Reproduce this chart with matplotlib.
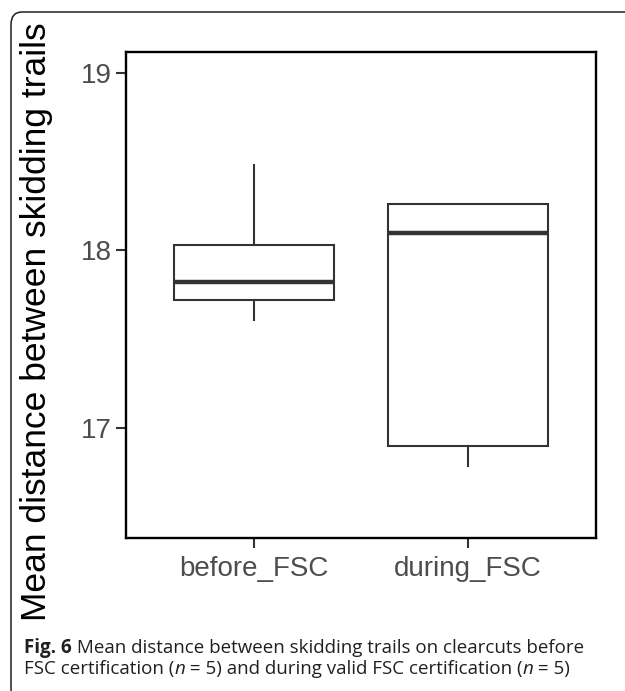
import matplotlib
matplotlib.use("Agg")
import matplotlib.pyplot as plt
from matplotlib.patches import FancyBboxPatch

# five-number summaries
groups = ["before_FSC", "during_FSC"]
whisker_low = [17.61, 16.79]
q1 = [17.72, 16.90]
median = [17.82, 18.10]
q3 = [18.03, 18.26]
whisker_high = [18.48, 18.26]
y_ticks = [17, 18, 19]

fig = plt.figure(figsize=(6.25, 6.91), dpi=100)
ax = fig.add_axes([0.2011, 0.2219, 0.7525, 0.7028])

stats = []
for i, g in enumerate(groups):
    stats.append(dict(label=g, whislo=whisker_low[i], q1=q1[i], med=median[i],
                      q3=q3[i], whishi=whisker_high[i], fliers=[]))

line_col = "#333333"
ax.bxp(stats, positions=[1, 2], widths=0.75, showcaps=False, patch_artist=True,
       boxprops=dict(facecolor="white", edgecolor=line_col, linewidth=1.5),
       medianprops=dict(color=line_col, linewidth=3.2, solid_capstyle="butt"),
       whiskerprops=dict(color=line_col, linewidth=1.5))

ax.set_xlim(0.4, 2.6)
ax.set_ylim(16.385, 19.116)
ax.set_yticks(y_ticks)
ax.set_xticks([1, 2])
ax.set_xticklabels(groups)
for s in ax.spines.values():
    s.set_linewidth(1.7)
    s.set_color("black")
ax.tick_params(axis="both", length=7, width=1.5, color="#333333",
               labelsize=20, labelcolor="#4D4D4D", pad=3)
ax.tick_params(axis="x", pad=6)
for lab in ax.get_xticklabels() + ax.get_yticklabels():
    lab.set_family("Liberation Sans")

fig.text(0.058, 0.535, "Mean distance between skidding trails", rotation=90,
         ha="center", va="center", fontsize=25.5, family="Liberation Sans", color="black")

# caption, drawn piece by piece so bold and italic parts can be mixed
cap_lines = [
    [("Fig. 6", "bold", "normal"),
     (" Mean distance between skidding trails on clearcuts before", "normal", "normal")],
    [("FSC certification (", "normal", "normal"), ("n", "normal", "italic"),
     (" = 5) and during valid FSC certification (", "normal", "normal"),
     ("n", "normal", "italic"), (" = 5)", "normal", "normal")],
]
cap_y = [648, 669]
renderer = fig.canvas.get_renderer()
for line, ypx in zip(cap_lines, cap_y):
    x = 24
    for txt, wt, st in line:
        t = fig.text(x / 625, 1 - ypx / 691, txt, fontsize=13.5, family="Open Sans",
                     weight=wt, style=st, color="#231F20", ha="left", va="center")
        x += t.get_window_extent(renderer).width

frame = FancyBboxPatch((11 / 625, -10 / 691), 640 / 625, (691 - 12 + 10) / 691,
                       boxstyle="round,pad=0,rounding_size=0.018",
                       transform=fig.transFigure, fill=False,
                       edgecolor="#231F20", linewidth=1.1)
fig.patches.append(frame)

fig.savefig("out.png", dpi=100)
